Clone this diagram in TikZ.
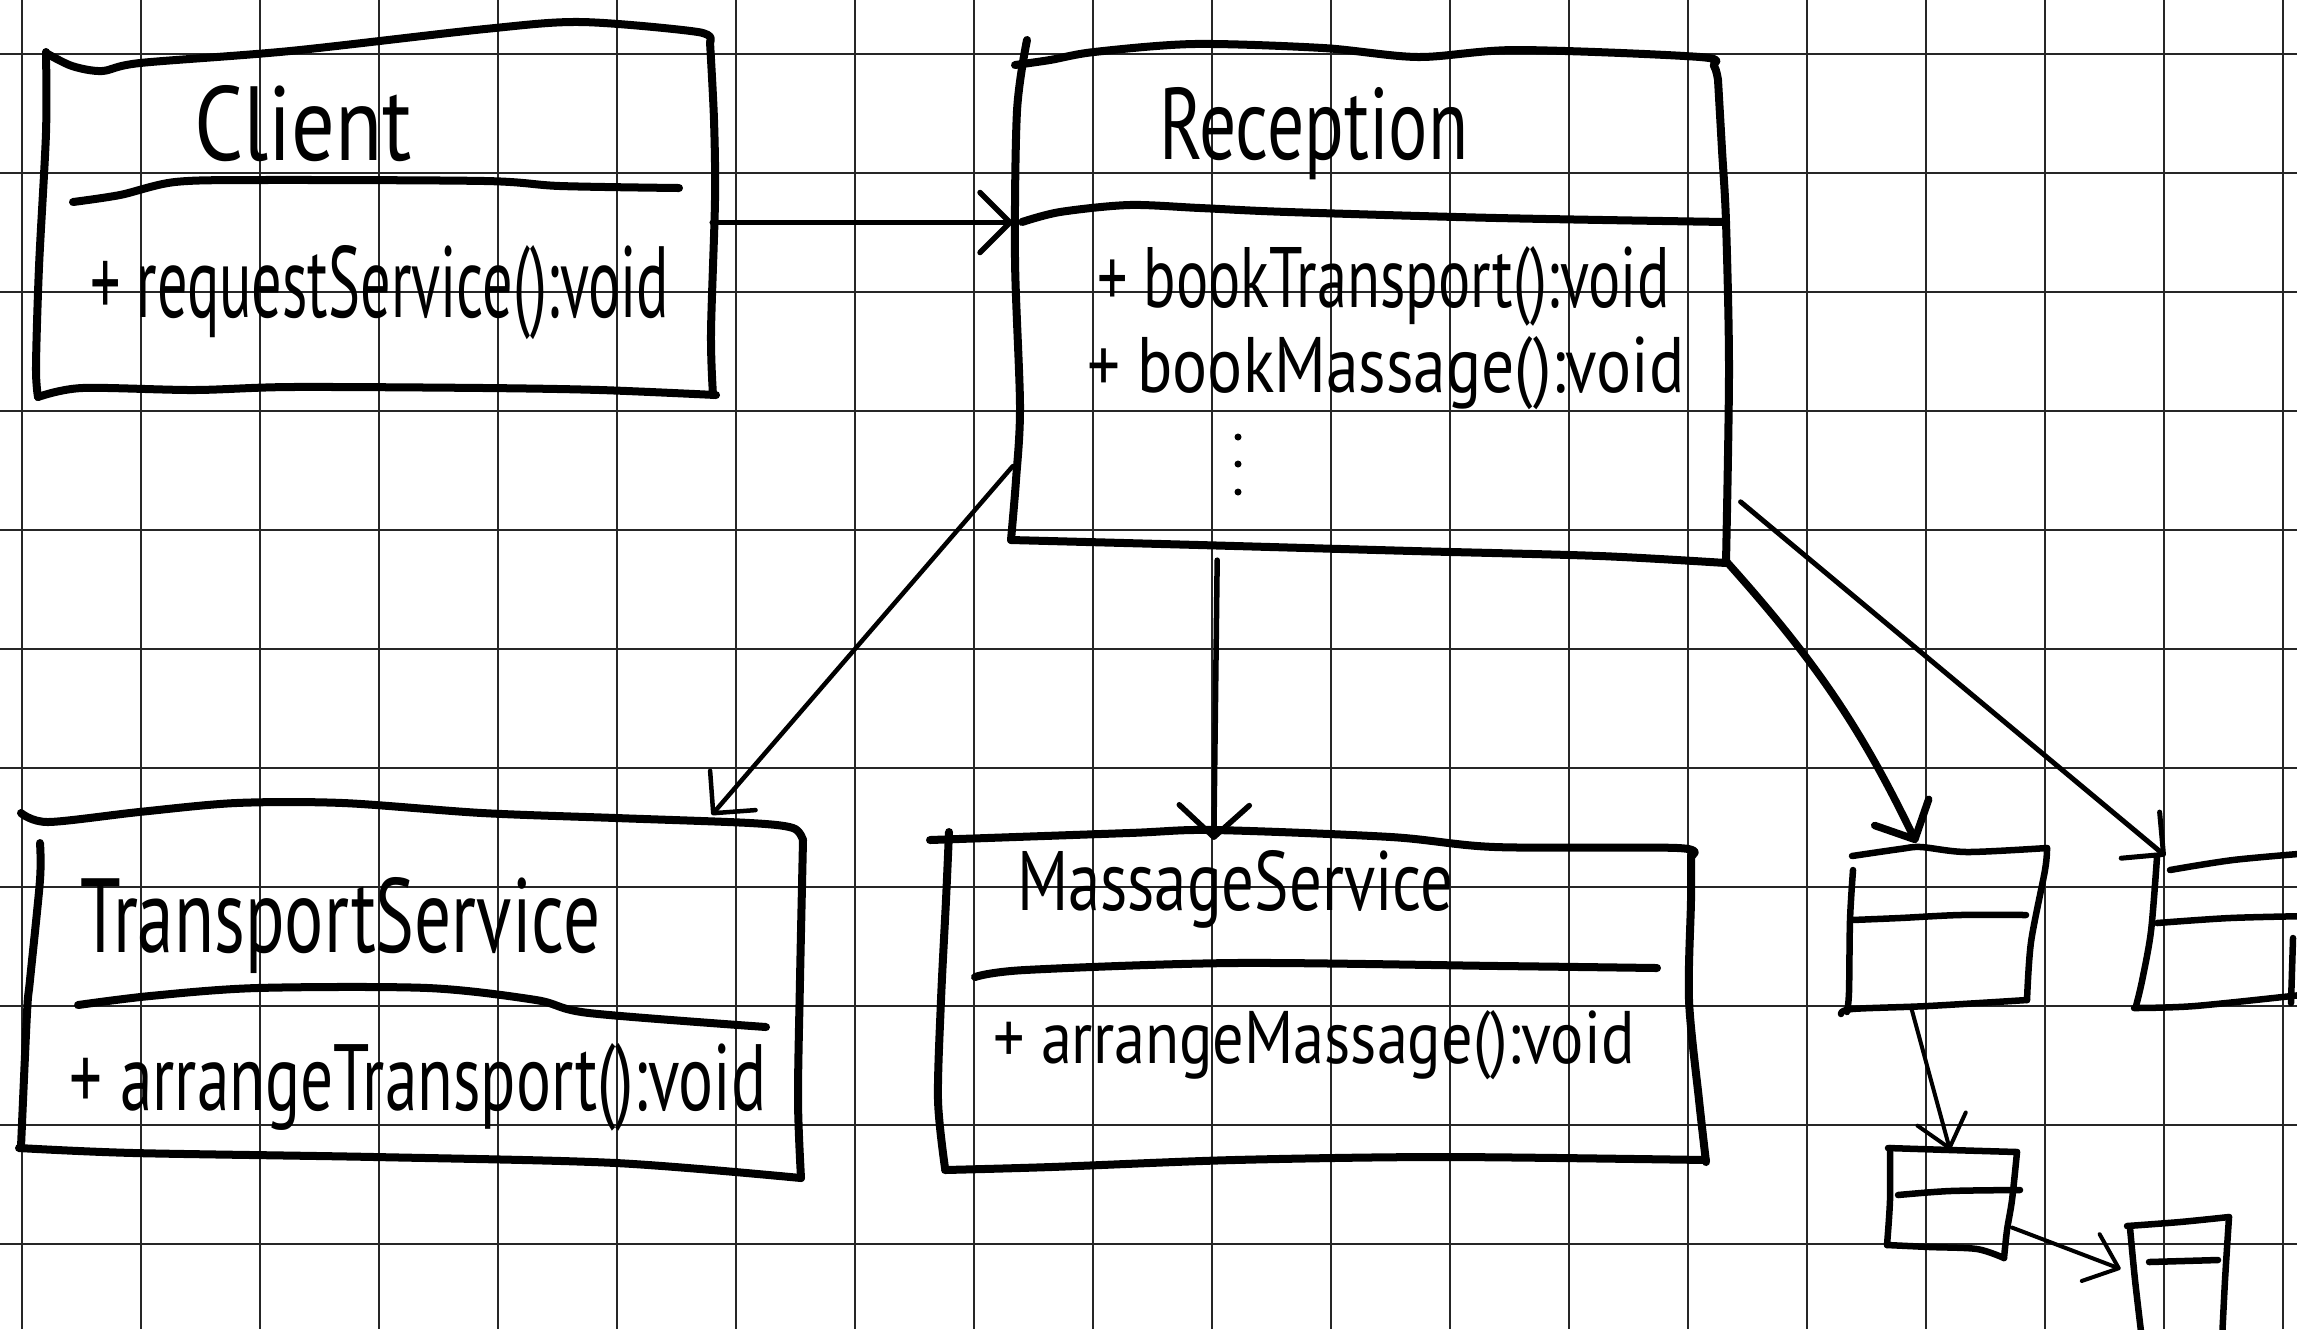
\documentclass[tikz,border=0pt]{standalone}
\usepackage{fontspec}
\setmainfont{PT Sans}
\usepackage{graphicx}
\usetikzlibrary{arrows.meta,calc}

% hand lettering: text squeezed to a given width and height
\newcommand{\handtext}[3]{\resizebox{#1}{#2}{#3}}

\tikzset{
  gridline/.style={line width=0.02cm, black!85},
  outline/.style={line width=0.08cm, line cap=round, line join=round},
  smallout/.style={line width=0.065cm, line cap=round, line join=round},
  anchorbox/.style={rectangle, draw=none, inner sep=0pt, outer sep=0pt},
  handlbl/.style={anchor=base west, inner sep=0pt, outer sep=0pt},
  dotmark/.style={circle, fill=black, inner sep=0pt, minimum size=0.07cm},
  conn/.style={line width=0.055cm, line cap=round,
    -{Straight Barb[length=0.3cm, width=0.6cm, round]}},
  smallconn/.style={line width=0.04cm, line cap=round,
    -{Straight Barb[length=0.3cm, width=0.5cm, round]}},
}

\begin{document}
\begin{tikzpicture}[x=0.01cm, y=-0.01cm]
\fill[white] (0,0) rectangle (2297,1329);
\useasboundingbox (0,0) rectangle (2297,1329);

% squared paper
\foreach \i in {0,...,19} \draw[gridline] ({22+119*\i},0) -- ({22+119*\i},1329);
\foreach \j in {0,...,10} \draw[gridline] (0,{54+119*\j}) -- (2297,{54+119*\j});

% class boxes (anchors for the connectors)
\node[anchorbox, minimum width=6.72cm, minimum height=3.45cm] (client) at (376,222.5) {};
\node[anchorbox, minimum width=7.12cm, minimum height=5.05cm] (reception) at (1369,307.5) {};
\node[anchorbox, minimum width=7.82cm, minimum height=3.60cm] (ts) at (412,995) {};
\node[anchorbox, minimum width=7.55cm, minimum height=3.22cm] (ms) at (1322.5,1001) {};
\node[anchorbox, minimum width=1.95cm, minimum height=1.60cm] (boxA) at (1947.5,930) {};
\node[anchorbox, minimum width=1.42cm, minimum height=1.50cm] (boxB) at (2224,931) {};
\node[anchorbox, minimum width=1.24cm, minimum height=1.05cm] (boxC) at (1950,1202.5) {};
\node[anchorbox, minimum width=0.96cm, minimum height=1.40cm] (boxD) at (2178,1290) {};

% Client outline
\draw[outline] plot[smooth, tension=0.5] coordinates {(46,53) (72,66) (102,71) (140,63) (290,51) (485,29) (581,22) (698,32) (710,42)};
\draw[outline] plot[smooth, tension=0.5] coordinates {(710,42) (714,120) (715,200) (711,333) (713,395)};
\draw[outline] plot[smooth, tension=0.5] coordinates {(716,395) (600,390) (485,388) (291,387) (194,390) (82,388) (38,397)};
\draw[outline] plot[smooth, tension=0.5] coordinates {(38,397) (36,367) (39,267) (46,133) (46,52)};
\draw[outline] plot[smooth, tension=0.5] coordinates {(73,202) (120,195) (175,182) (260,180) (485,181) (560,186) (679,188)};

% Reception outline
\draw[outline] plot[smooth, tension=0.5] coordinates {(1015,65) (1050,60) (1094,52) (1194,44) (1323,48) (1418,57) (1517,50) (1700,57) (1714,66) (1718,80)};
\draw[outline] plot[smooth, tension=0.5] coordinates {(1718,80) (1722,150) (1726,222) (1729,370) (1726,562)};
\draw[outline] plot[smooth, tension=0.5] coordinates {(1726,563) (1600,556) (1413,551) (1199,545) (1011,540)};
\draw[outline] plot[smooth, tension=0.5] coordinates {(1011,540) (1016,480) (1020,406) (1015,259) (1017,111) (1027,40)};
\draw[outline] plot[smooth, tension=0.5] coordinates {(1022,222) (1060,212) (1129,205) (1200,208) (1288,212) (1497,218) (1726,222)};

% TransportService outline
\draw[outline] plot[smooth, tension=0.5] coordinates {(21,813) (48,822) (139,812) (236,803) (343,803) (482,813) (616,818) (750,823) (793,828) (803,840)};
\draw[outline] plot[smooth, tension=0.5] coordinates {(803,840) (800,980) (798,1100) (801,1178)};
\draw[outline] plot[smooth, tension=0.5] coordinates {(801,1178) (616,1163) (375,1157) (134,1153) (19,1148)};
\draw[outline] plot[smooth, tension=0.5] coordinates {(40,843) (40,880) (30,980) (27,1013) (21,1147)};
\draw[outline] plot[smooth, tension=0.5] coordinates {(78,1005) (150,996) (257,988) (428,988) (536,1000) (589,1013) (766,1027)};

% MassageService outline
\draw[outline] plot[smooth, tension=0.5] coordinates {(930,840) (1129,833) (1213,830) (1391,837) (1495,847) (1678,848) (1691,856)};
\draw[outline] plot[smooth, tension=0.5] coordinates {(1691,856) (1691,900) (1689,1000) (1699,1100) (1706,1162)};
\draw[outline] plot[smooth, tension=0.5] coordinates {(1706,1160) (1443,1157) (1234,1160) (1051,1167) (945,1170)};
\draw[outline] plot[smooth, tension=0.5] coordinates {(949,832) (946,900) (941,1000) (938,1100) (945,1168)};
\draw[outline] plot[smooth, tension=0.5] coordinates {(975,977) (1025,970) (1234,963) (1500,966) (1657,968)};

% small boxes on the right
\draw[smallout] plot[smooth, tension=0.5] coordinates {(1852,856) (1900,849) (1921,847) (1967,852) (2047,848)};
\draw[smallout] plot[smooth, tension=0.5] coordinates {(2047,848) (2045,870) (2031,942) (2027,1000)};
\draw[smallout] plot[smooth, tension=0.5] coordinates {(2027,1000) (1928,1006) (1852,1009) (1841,1014)};
\draw[smallout] plot[smooth, tension=0.5] coordinates {(1853,870) (1850,920) (1849,992) (1847,1012)};
\draw[smallout] plot[smooth, tension=0.5] coordinates {(1852,920) (1900,918) (1960,915) (2026,915)};

\draw[smallout] plot[smooth, tension=0.5] coordinates {(2157,857) (2151,931) (2142,981) (2136,1006)};
\draw[smallout] plot[smooth, tension=0.5] coordinates {(2170,870) (2233,860) (2310,853)};
\draw[smallout] plot[smooth, tension=0.5] coordinates {(2134,1008) (2195,1006) (2310,994)};
\draw[smallout] plot[smooth, tension=0.5] coordinates {(2157,923) (2230,918) (2310,916)};
\draw[smallout] (2293,938) -- (2291,1003);

\draw[smallout] plot[smooth, tension=0.5] coordinates {(1888,1148) (1950,1150) (2017,1152)};
\draw[smallout] plot[smooth, tension=0.5] coordinates {(2017,1152) (2012,1200) (2007,1230) (2004,1258)};
\draw[smallout] plot[smooth, tension=0.5] coordinates {(2004,1258) (1977,1249) (1930,1247) (1887,1245)};
\draw[smallout] plot[smooth, tension=0.5] coordinates {(1890,1148) (1890,1200) (1887,1245)};
\draw[smallout] plot[smooth, tension=0.5] coordinates {(1898,1195) (1950,1191) (2020,1190)};

\draw[smallout] plot[smooth, tension=0.5] coordinates {(2127,1226) (2180,1222) (2229,1217)};
\draw[smallout] plot[smooth, tension=0.5] coordinates {(2130,1228) (2135,1280) (2142,1340)};
\draw[smallout] plot[smooth, tension=0.5] coordinates {(2229,1217) (2225,1280) (2222,1340)};
\draw[smallout] (2149,1262) -- (2218,1260);

% connectors
\draw[conn] (client.east) -- (client.east -| reception.west);
\draw[conn, line width=0.045cm] (reception.204) -- (ts.31.7);
\draw[conn, -{Straight Barb[length=0.32cm, width=0.7cm, round]}] (reception.239.5) -- (ms.124);
\draw[conn, line width=0.075cm, shorten >=0.08cm] (reception.south east) to[bend left=8] (boxA.109);
\draw[conn, line width=0.05cm, shorten <=0.2cm] (reception.-27) -- (boxB.128);
\draw[smallconn] (boxA.246.7) -- (boxC.north);
\draw[smallconn, shorten >=0.1cm] (boxC.-22.4) -- (boxD.160);

% lettering
\node[handlbl] (tclient) at (194,160) {\handtext{2.18cm}{0.75cm}{Client}};
\node[handlbl] (oclient) at (90,317) {\handtext{5.79cm}{0.72cm}{+ requestService():void}};
\node[handlbl] (trecep) at (1159,159) {\handtext{3.09cm}{0.72cm}{Reception}};
\node[handlbl] (orecepa) at (1097,307) {\handtext{5.72cm}{0.61cm}{+ bookTransport():void}};
\node[handlbl] (orecepb) at (1087,392) {\handtext{5.97cm}{0.56cm}{+ bookMassage():void}};
\node[handlbl] (tts) at (80,952) {\handtext{5.20cm}{0.75cm}{TransportService}};
\node[handlbl] (ots) at (70,1110) {\handtext{6.96cm}{0.67cm}{+ arrangeTransport():void}};
\node[handlbl] (tms) at (1017,910) {\handtext{4.36cm}{0.60cm}{MassageService}};
\node[handlbl] (oms) at (993,1063) {\handtext{6.41cm}{0.53cm}{+ arrangeMassage():void}};

% ellipsis marks under the operations
\foreach \k/\yy in {a/437, b/464, c/492}
  \node[dotmark] (dot\k) at (1238,\yy) {};
\end{tikzpicture}
\end{document}
